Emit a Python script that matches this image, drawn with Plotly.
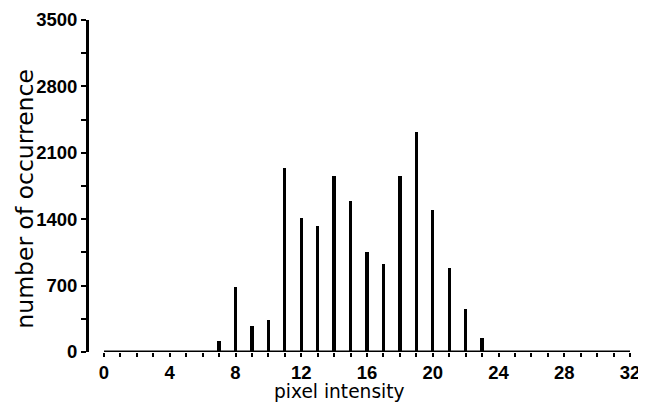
import plotly.graph_objects as go

# Data
pixel_intensity = [7, 8, 9, 10, 11, 12, 13, 14, 15, 16, 17, 18, 19, 20, 21, 22, 23]
occurrences = [120, 688, 277, 337, 1937, 1416, 1332, 1859, 1595, 1054, 925, 1852, 2322, 1497, 882, 453, 144]

x_tickvals = [0, 4, 8, 12, 16, 20, 24, 28, 32]
y_tickvals = [0, 700, 1400, 2100, 2800, 3500]

TICK_FONT = dict(family="Liberation Sans, Arial, sans-serif", size=18.5, color="black", weight="bold")
TITLE_FAMILY = "DejaVu Sans, sans-serif"

fig = go.Figure()
fig.add_trace(go.Bar(
    x=pixel_intensity,
    y=occurrences,
    width=0.2,
    marker=dict(color="black", line=dict(width=0)),
    showlegend=False,
))

# the page body adds an 8px offset, so the figure is sized to fit the 646x403 window
fig.update_layout(
    width=638, height=395,
    margin=dict(l=81, r=15, t=12, b=51),
    paper_bgcolor="white", plot_bgcolor="white",
    font=dict(family=TITLE_FAMILY, color="black", size=18),
    bargap=0,
    xaxis=dict(
        range=[-0.913, 32.06],
        automargin=False,
        tickvals=x_tickvals,
        ticktext=[str(v) for v in x_tickvals],
        ticks="outside", ticklen=4, tickwidth=2, tickcolor="black",
        minor=dict(dtick=1, tick0=0, ticks="outside", ticklen=4, tickwidth=2, tickcolor="black"),
        showline=False, showgrid=False, zeroline=False,
        tickfont=TICK_FONT,
    ),
    yaxis=dict(
        range=[0, 3500],
        automargin=False,
        tickvals=y_tickvals,
        ticktext=[str(v) for v in y_tickvals],
        ticks="outside", ticklen=5, tickwidth=2, tickcolor="black",
        minor=dict(dtick=350, tick0=0, ticks="outside", ticklen=5, tickwidth=2, tickcolor="black"),
        showline=True, linewidth=3, linecolor="black",
        showgrid=False, zeroline=False,
        tickfont=TICK_FONT,
    ),
    shapes=[dict(
        type="line", xref="x", yref="y",
        x0=0, x1=32, y0=0, y1=0,
        line=dict(color="black", width=3),
    )],
    annotations=[
        dict(text="number of occurrence", textangle=-90,
             xref="paper", yref="paper", x=-0.118, y=0.462,
             xanchor="center", yanchor="middle", showarrow=False,
             font=dict(family=TITLE_FAMILY, size=23.5, color="black")),
        dict(text="pixel intensity",
             xref="x", yref="paper", x=14.3, y=-0.118,
             xanchor="center", yanchor="middle", showarrow=False,
             font=dict(family=TITLE_FAMILY, size=18.6, color="black")),
    ],
)

fig.write_html("out.html")
